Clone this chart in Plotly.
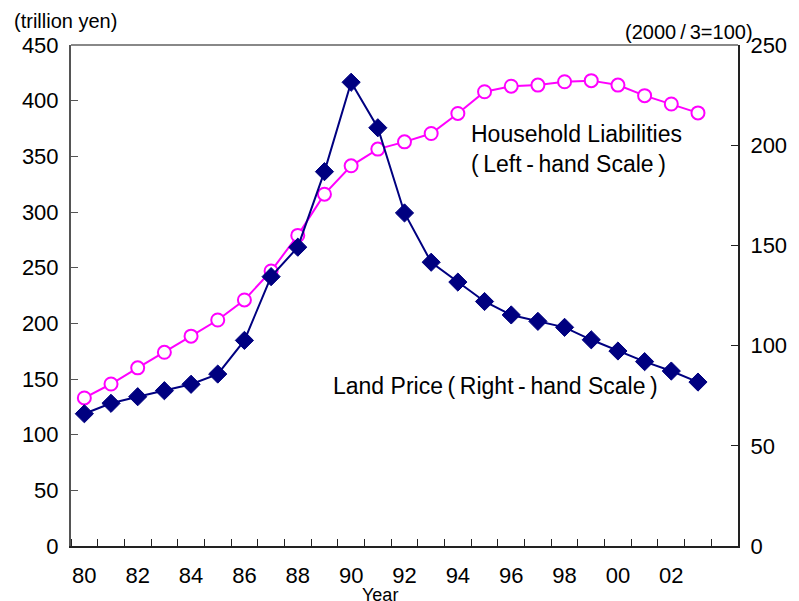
import plotly.graph_objects as go

years = list(range(1980, 2004))
tick_vals = list(range(1980, 2004, 2))
tick_text = ["80", "82", "84", "86", "88", "90", "92", "94", "96", "98", "00", "02"]

household_liabilities = [133, 145.5, 160, 174, 188.5, 203, 221, 247, 279, 316, 341.5, 356.5,
                         363, 370.5, 388.5, 408, 413, 414, 417, 418, 414, 404.5, 397, 389]
land_price = [66, 71.2, 74.5, 77.5, 80.7, 85.8, 102.6, 134.4, 149.1, 186.8, 231.4, 208.7,
              166.2, 141.6, 131.7, 122, 115.3, 112.1, 109.1, 102.9, 97.3, 92, 87.3, 81.8]

FONT = "Liberation Sans, Arial, sans-serif"
NAVY = "#000080"
MAGENTA = "#FF00FF"
T = "\u2009"  # thin space

fig = go.Figure()
fig.add_trace(go.Scatter(
    x=years, y=household_liabilities, mode="lines+markers", yaxis="y",
    line=dict(color=MAGENTA, width=2),
    marker=dict(symbol="circle", size=13, color="white", line=dict(color=MAGENTA, width=2)),
    showlegend=False))
fig.add_trace(go.Scatter(
    x=years, y=land_price, mode="lines+markers", yaxis="y2",
    line=dict(color=NAVY, width=2),
    marker=dict(symbol="diamond", size=14, color=NAVY, line=dict(color=NAVY, width=1)),
    showlegend=False))

fig.update_layout(
    width=799, height=601,
    margin=dict(l=71, r=58, t=45, b=55),
    paper_bgcolor="white", plot_bgcolor="white",
    font=dict(family=FONT, size=22, color="black"),
    xaxis=dict(
        range=[1979.5, 2004.5], tickmode="array", tickvals=tick_vals, ticktext=tick_text,
        ticks="", showgrid=False, zeroline=False,
        showline=True, linecolor="#222", linewidth=2,
        minor=dict(tick0=1979.5, dtick=1, ticks="inside", ticklen=7, tickcolor="#222", tickwidth=1, showgrid=False),
        tickfont=dict(size=22), ticklabelstandoff=9),
    yaxis=dict(
        range=[0, 450], dtick=50, ticks="inside", ticklen=7, tickcolor="#555",
        showgrid=False, zeroline=False, showline=True, linecolor="#555", linewidth=2,
        tickfont=dict(size=22), ticklabelstandoff=6),
    yaxis2=dict(
        range=[0, 250], dtick=50, ticks="inside", ticklen=7, tickcolor="#222",
        overlaying="y", side="right", showgrid=False, zeroline=False,
        showline=True, linecolor="#222", linewidth=2,
        tickfont=dict(size=22), ticklabelstandoff=6),
    shapes=[dict(type="line", xref="paper", yref="paper", x0=0, x1=1, y0=1, y1=1,
                 line=dict(color="#888", width=2))],
    annotations=[
        dict(text="(trillion yen)", xref="paper", yref="paper", x=-0.088, y=1.047,
             xanchor="left", yanchor="middle", showarrow=False, font=dict(size=20)),
        dict(text="(2000" + T + "/" + T + "3=100)", xref="paper", yref="paper", x=1.025, y=1.026,
             xanchor="right", yanchor="middle", showarrow=False, font=dict(size=20)),
        dict(text="Household Liabilities<br>(" + T + "Left" + T + "-" + T + "hand Scale" + T + ")",
             xref="paper", yref="paper",
             x=0.597, y=0.792, xanchor="left", yanchor="middle", align="left",
             showarrow=False, font=dict(size=23)),
        dict(text="Land Price" + T + "(" + T + "Right" + T + "-" + T + "hand Scale" + T + ")",
             xref="paper", yref="paper",
             x=0.3896, y=0.319, xanchor="left", yanchor="middle",
             showarrow=False, font=dict(size=23)),
        dict(text="Year", xref="paper", yref="paper", x=0.463, y=-0.121,
             xanchor="center", yanchor="bottom", showarrow=False, font=dict(size=18)),
    ],
)

fig.write_html("out.html")
